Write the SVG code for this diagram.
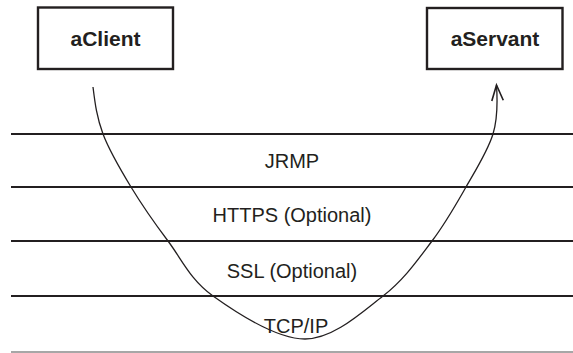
<svg xmlns="http://www.w3.org/2000/svg" width="573" height="353" viewBox="0 0 573 353">
<style>
.box{fill:#fff;stroke:#231f20;stroke-width:2.4}
.lbl{font-family:"Liberation Sans",Arial,sans-serif;font-size:21px;font-weight:bold;fill:#231f20;text-anchor:middle}
.layer{stroke:#231f20;stroke-width:2.2}
.ltxt{font-family:"Liberation Sans",Arial,sans-serif;font-size:20px;fill:#231f20;text-anchor:middle}
.flow{fill:none;stroke:#231f20;stroke-width:1.3}
</style>
<defs>
<marker id="arr" markerUnits="userSpaceOnUse" markerWidth="20" markerHeight="20" viewBox="-14 -8 16 16" refX="0" refY="0" orient="auto">
<path d="M-12.5,-4.6 L0,0 L-12.5,4.6" fill="none" stroke="#231f20" stroke-width="1.3"/>
</marker>
</defs>
<rect width="573" height="353" fill="#fff"/>
<g id="layers">
<line class="layer" x1="11" y1="134" x2="573" y2="134"/>
<line class="layer" x1="11" y1="187" x2="573" y2="187"/>
<line class="layer" x1="11" y1="241" x2="573" y2="241"/>
<line class="layer" x1="11" y1="296" x2="573" y2="296"/>
<line x1="11" y1="352" x2="573" y2="352" stroke="#8a8a8a" stroke-width="1.5"/>
<text class="ltxt" x="292" y="168">JRMP</text>
<text class="ltxt" x="292" y="221.5">HTTPS (Optional)</text>
<text class="ltxt" x="292" y="278">SSL (Optional)</text>
<text class="ltxt" x="296" y="333">TCP/IP</text>
</g>
<g id="aClient">
<rect class="box" x="38" y="7.5" width="135" height="61.5"/>
<text class="lbl" x="105.5" y="45.5">aClient</text>
</g>
<g id="aServant">
<rect class="box" x="427" y="8" width="135.5" height="61"/>
<text class="lbl" x="495" y="45.5">aServant</text>
</g>
<g id="connectors">
<path class="flow" marker-end="url(#arr)" d="M93,87 C95,103 96.7,117.3 103,134 C109.3,150.7 120.2,169.2 131,187 C141.8,204.8 154.3,222.8 168,241 C181.7,259.2 190.2,279.7 213,296 C235.8,312.3 276.7,339 305,339 C333.3,339 361.8,312.3 383,296 C404.2,279.7 418.2,259.2 432,241 C445.8,222.8 455.8,204.8 466,187 C476.2,169.2 487.8,151 493,134 C498.2,117 497.5,100 496.5,85"/>
</g>
</svg>
